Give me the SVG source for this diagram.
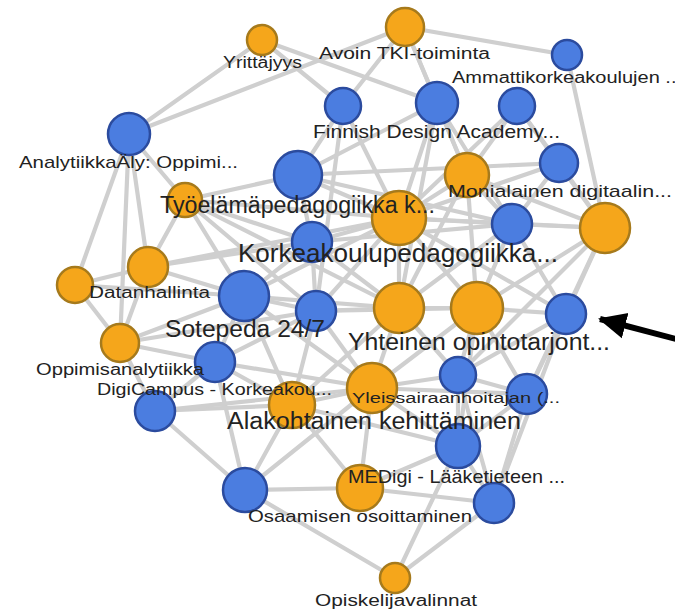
<svg xmlns="http://www.w3.org/2000/svg" width="675" height="611" viewBox="0 0 675 611">
<style>
.e{stroke:#cfcfcf;stroke-width:4.2;stroke-linecap:round}
.o{fill:#f5a61b;stroke:#a67a1c;stroke-width:2.5}
.b{fill:#4b7de0;stroke:#2b4b9e;stroke-width:2.5}
text{font-family:"Liberation Sans",Arial,sans-serif;fill:#222;text-anchor:middle}
</style>
<defs>
<marker id="ah" viewBox="0 0 28 28" refX="26" refY="14" markerWidth="28" markerHeight="28" markerUnits="userSpaceOnUse" orient="auto"><path d="M0,1 L28,14 L0,27 z" fill="#000"/></marker>
</defs>
<rect width="675" height="611" fill="#fff"/>
<g id="edges">
<line class="e" x1="262" y1="40" x2="129" y2="134"/>
<line class="e" x1="262" y1="40" x2="343" y2="106"/>
<line class="e" x1="262" y1="40" x2="437" y2="103"/>
<line class="e" x1="129" y1="134" x2="405" y2="27"/>
<line class="e" x1="405" y1="27" x2="343" y2="106"/>
<line class="e" x1="405" y1="27" x2="437" y2="103"/>
<line class="e" x1="405" y1="27" x2="567" y2="55"/>
<line class="e" x1="405" y1="27" x2="467" y2="175"/>
<line class="e" x1="567" y1="55" x2="605" y2="228"/>
<line class="e" x1="343" y1="106" x2="298" y2="175"/>
<line class="e" x1="343" y1="106" x2="399" y2="218"/>
<line class="e" x1="343" y1="106" x2="316" y2="311"/>
<line class="e" x1="437" y1="103" x2="399" y2="218"/>
<line class="e" x1="437" y1="103" x2="467" y2="175"/>
<line class="e" x1="437" y1="103" x2="298" y2="175"/>
<line class="e" x1="437" y1="103" x2="512" y2="224"/>
<line class="e" x1="437" y1="103" x2="399" y2="308"/>
<line class="e" x1="517" y1="106" x2="467" y2="175"/>
<line class="e" x1="517" y1="106" x2="399" y2="218"/>
<line class="e" x1="517" y1="106" x2="605" y2="228"/>
<line class="e" x1="517" y1="106" x2="559" y2="163"/>
<line class="e" x1="129" y1="134" x2="185" y2="200"/>
<line class="e" x1="129" y1="134" x2="148" y2="267"/>
<line class="e" x1="129" y1="134" x2="75" y2="285"/>
<line class="e" x1="129" y1="134" x2="120" y2="343"/>
<line class="e" x1="185" y1="200" x2="298" y2="175"/>
<line class="e" x1="185" y1="200" x2="399" y2="218"/>
<line class="e" x1="185" y1="200" x2="312" y2="242"/>
<line class="e" x1="185" y1="200" x2="244" y2="296"/>
<line class="e" x1="185" y1="200" x2="148" y2="267"/>
<line class="e" x1="185" y1="200" x2="316" y2="311"/>
<line class="e" x1="185" y1="200" x2="399" y2="308"/>
<line class="e" x1="298" y1="175" x2="399" y2="218"/>
<line class="e" x1="298" y1="175" x2="312" y2="242"/>
<line class="e" x1="298" y1="175" x2="559" y2="163"/>
<line class="e" x1="298" y1="175" x2="512" y2="224"/>
<line class="e" x1="467" y1="175" x2="399" y2="218"/>
<line class="e" x1="467" y1="175" x2="512" y2="224"/>
<line class="e" x1="467" y1="175" x2="605" y2="228"/>
<line class="e" x1="467" y1="175" x2="477" y2="308"/>
<line class="e" x1="467" y1="175" x2="399" y2="308"/>
<line class="e" x1="559" y1="163" x2="605" y2="228"/>
<line class="e" x1="559" y1="163" x2="512" y2="224"/>
<line class="e" x1="559" y1="163" x2="399" y2="218"/>
<line class="e" x1="399" y1="218" x2="512" y2="224"/>
<line class="e" x1="399" y1="218" x2="312" y2="242"/>
<line class="e" x1="399" y1="218" x2="399" y2="308"/>
<line class="e" x1="399" y1="218" x2="477" y2="308"/>
<line class="e" x1="399" y1="218" x2="244" y2="296"/>
<line class="e" x1="399" y1="218" x2="148" y2="267"/>
<line class="e" x1="399" y1="218" x2="316" y2="311"/>
<line class="e" x1="399" y1="218" x2="566" y2="314"/>
<line class="e" x1="399" y1="218" x2="605" y2="228"/>
<line class="e" x1="605" y1="228" x2="512" y2="224"/>
<line class="e" x1="605" y1="228" x2="566" y2="314"/>
<line class="e" x1="605" y1="228" x2="477" y2="308"/>
<line class="e" x1="605" y1="228" x2="527" y2="394"/>
<line class="e" x1="605" y1="228" x2="458" y2="375"/>
<line class="e" x1="512" y1="224" x2="477" y2="308"/>
<line class="e" x1="512" y1="224" x2="399" y2="308"/>
<line class="e" x1="512" y1="224" x2="566" y2="314"/>
<line class="e" x1="512" y1="224" x2="312" y2="242"/>
<line class="e" x1="312" y1="242" x2="244" y2="296"/>
<line class="e" x1="312" y1="242" x2="399" y2="308"/>
<line class="e" x1="312" y1="242" x2="148" y2="267"/>
<line class="e" x1="312" y1="242" x2="316" y2="311"/>
<line class="e" x1="148" y1="267" x2="75" y2="285"/>
<line class="e" x1="148" y1="267" x2="244" y2="296"/>
<line class="e" x1="148" y1="267" x2="120" y2="343"/>
<line class="e" x1="75" y1="285" x2="120" y2="343"/>
<line class="e" x1="75" y1="285" x2="244" y2="296"/>
<line class="e" x1="120" y1="343" x2="244" y2="296"/>
<line class="e" x1="120" y1="343" x2="215" y2="362"/>
<line class="e" x1="120" y1="343" x2="155" y2="411"/>
<line class="e" x1="120" y1="343" x2="316" y2="311"/>
<line class="e" x1="244" y1="296" x2="316" y2="311"/>
<line class="e" x1="244" y1="296" x2="215" y2="362"/>
<line class="e" x1="244" y1="296" x2="399" y2="308"/>
<line class="e" x1="244" y1="296" x2="292" y2="405"/>
<line class="e" x1="244" y1="296" x2="372" y2="388"/>
<line class="e" x1="316" y1="311" x2="399" y2="308"/>
<line class="e" x1="316" y1="311" x2="215" y2="362"/>
<line class="e" x1="316" y1="311" x2="292" y2="405"/>
<line class="e" x1="316" y1="311" x2="372" y2="388"/>
<line class="e" x1="316" y1="311" x2="477" y2="308"/>
<line class="e" x1="399" y1="308" x2="477" y2="308"/>
<line class="e" x1="399" y1="308" x2="372" y2="388"/>
<line class="e" x1="399" y1="308" x2="458" y2="375"/>
<line class="e" x1="399" y1="308" x2="292" y2="405"/>
<line class="e" x1="477" y1="308" x2="566" y2="314"/>
<line class="e" x1="477" y1="308" x2="458" y2="375"/>
<line class="e" x1="477" y1="308" x2="527" y2="394"/>
<line class="e" x1="477" y1="308" x2="372" y2="388"/>
<line class="e" x1="477" y1="308" x2="458" y2="446"/>
<line class="e" x1="566" y1="314" x2="527" y2="394"/>
<line class="e" x1="566" y1="314" x2="458" y2="375"/>
<line class="e" x1="566" y1="314" x2="494" y2="503"/>
<line class="e" x1="215" y1="362" x2="155" y2="411"/>
<line class="e" x1="215" y1="362" x2="292" y2="405"/>
<line class="e" x1="215" y1="362" x2="245" y2="490"/>
<line class="e" x1="215" y1="362" x2="372" y2="388"/>
<line class="e" x1="458" y1="375" x2="372" y2="388"/>
<line class="e" x1="458" y1="375" x2="527" y2="394"/>
<line class="e" x1="458" y1="375" x2="458" y2="446"/>
<line class="e" x1="458" y1="375" x2="494" y2="503"/>
<line class="e" x1="527" y1="394" x2="458" y2="446"/>
<line class="e" x1="527" y1="394" x2="372" y2="388"/>
<line class="e" x1="527" y1="394" x2="494" y2="503"/>
<line class="e" x1="155" y1="411" x2="292" y2="405"/>
<line class="e" x1="155" y1="411" x2="245" y2="490"/>
<line class="e" x1="155" y1="411" x2="372" y2="388"/>
<line class="e" x1="372" y1="388" x2="292" y2="405"/>
<line class="e" x1="372" y1="388" x2="458" y2="446"/>
<line class="e" x1="372" y1="388" x2="360" y2="488"/>
<line class="e" x1="372" y1="388" x2="245" y2="490"/>
<line class="e" x1="292" y1="405" x2="245" y2="490"/>
<line class="e" x1="292" y1="405" x2="360" y2="488"/>
<line class="e" x1="292" y1="405" x2="458" y2="446"/>
<line class="e" x1="360" y1="488" x2="245" y2="490"/>
<line class="e" x1="360" y1="488" x2="458" y2="446"/>
<line class="e" x1="360" y1="488" x2="494" y2="503"/>
<line class="e" x1="458" y1="446" x2="395" y2="578"/>
<line class="e" x1="458" y1="446" x2="494" y2="503"/>
<line class="e" x1="245" y1="490" x2="395" y2="578"/>
<line class="e" x1="494" y1="503" x2="395" y2="578"/>
</g>
<g id="node-b"><circle class="b" cx="343" cy="106" r="18"/></g>
<g id="node-d"><circle class="b" cx="517" cy="106" r="18"/></g>
<g id="node-h"><circle class="b" cx="512" cy="224" r="20"/></g>
<g id="node-i"><circle class="b" cx="312" cy="242" r="20"/></g>
<g id="node-k"><circle class="b" cx="316" cy="311" r="20"/></g>
<g id="node-l"><circle class="b" cx="566" cy="314" r="20"/></g>
<g id="node-o"><circle class="b" cx="527" cy="394" r="20"/></g>
<g id="node-p"><circle class="b" cx="155" cy="411" r="20"/></g>
<g id="node-r"><circle class="b" cx="245" cy="490" r="22"/></g>
<g id="node-s"><circle class="b" cx="494" cy="503" r="20"/></g>
<g id="node-o6"><circle class="o" cx="605" cy="228" r="25"/></g>
<g id="node-o8"><circle class="o" cx="75" cy="285" r="18"/></g>
<g id="node-o10"><circle class="o" cx="399" cy="308" r="25"/></g>
<g id="node-o13"><circle class="o" cx="292" cy="405" r="23"/></g>
<g id="node-o3"><circle class="o" cx="467" cy="175" r="22"/></g>
<g id="node-yrittajyys"><circle class="o" cx="262" cy="40" r="15"/><text x="262.5" y="68" font-size="16" textLength="79" lengthAdjust="spacingAndGlyphs">Yrittäjyys</text></g>
<g id="node-avoin"><circle class="o" cx="405" cy="27" r="19"/><text x="404.5" y="59" font-size="16" textLength="171" lengthAdjust="spacingAndGlyphs">Avoin TKI-toiminta</text></g>
<g id="node-amk"><circle class="b" cx="567" cy="55" r="15"/><text x="567" y="83" font-size="16" textLength="230" lengthAdjust="spacingAndGlyphs">Ammattikorkeakoulujen ...</text></g>
<g id="node-finnish"><circle class="b" cx="437" cy="103" r="21"/><text x="436.5" y="138" font-size="18.5" textLength="247" lengthAdjust="spacingAndGlyphs">Finnish Design Academy...</text></g>
<g id="node-analytiikka"><circle class="b" cx="129" cy="134" r="21"/><text x="128.5" y="168" font-size="17" textLength="219" lengthAdjust="spacingAndGlyphs">AnalytiikkaÄly: Oppimi...</text></g>
<g id="node-o4"><circle class="o" cx="185" cy="200" r="17"/></g>
<g id="node-korkeakoulu"><circle class="o" cx="399" cy="218" r="27"/><text x="398" y="262" font-size="25" textLength="320" lengthAdjust="spacingAndGlyphs">Korkeakoulupedagogiikka...</text></g>
<g id="node-tyoelama"><circle class="b" cx="298" cy="175" r="24"/><text x="297.5" y="213" font-size="23" textLength="275" lengthAdjust="spacingAndGlyphs">Työelämäpedagogiikka k...</text></g>
<g id="node-monialainen"><circle class="b" cx="559" cy="163" r="19"/><text x="560" y="197" font-size="17" textLength="224" lengthAdjust="spacingAndGlyphs">Monialainen digitaalin...</text></g>
<g id="node-datanhallinta"><circle class="o" cx="148" cy="267" r="20"/><text x="149.5" y="298" font-size="16" textLength="121" lengthAdjust="spacingAndGlyphs">Datanhallinta</text></g>
<g id="node-sotepeda"><circle class="b" cx="244" cy="296" r="25"/><text x="245" y="337" font-size="23" textLength="160" lengthAdjust="spacingAndGlyphs">Sotepeda 24/7</text></g>
<g id="node-digicampus"><circle class="b" cx="215" cy="362" r="20"/><text x="214.5" y="395" font-size="16" textLength="235" lengthAdjust="spacingAndGlyphs">DigiCampus - Korkeakou...</text></g>
<g id="node-oppimisanalytiikka"><circle class="o" cx="120" cy="343" r="19"/><text x="120" y="375" font-size="16" textLength="168" lengthAdjust="spacingAndGlyphs">Oppimisanalytiikka</text></g>
<g id="node-yhteinen"><circle class="o" cx="477" cy="308" r="26"/><text x="479" y="350" font-size="23" textLength="262" lengthAdjust="spacingAndGlyphs">Yhteinen opintotarjont...</text></g>
<g id="node-osaamisen"><circle class="o" cx="360" cy="488" r="23"/><text x="360" y="522" font-size="17" textLength="224" lengthAdjust="spacingAndGlyphs">Osaamisen osoittaminen</text></g>
<g id="node-medigi"><circle class="b" cx="458" cy="446" r="22"/><text x="456.5" y="483" font-size="18.5" textLength="217" lengthAdjust="spacingAndGlyphs">MEDigi - Lääketieteen ...</text></g>
<g id="node-alakohtainen"><circle class="o" cx="372" cy="388" r="25"/><text x="374" y="429" font-size="23" textLength="294" lengthAdjust="spacingAndGlyphs">Alakohtainen kehittäminen</text></g>
<g id="node-yleissairaanhoitajan"><circle class="b" cx="458" cy="375" r="18"/><text x="456" y="403" font-size="14" textLength="208" lengthAdjust="spacingAndGlyphs">Yleissairaanhoitajan (...</text></g>
<g id="node-opiskelijavalinnat"><circle class="o" cx="395" cy="578" r="15"/><text x="396" y="606" font-size="16" textLength="162" lengthAdjust="spacingAndGlyphs">Opiskelijavalinnat</text></g>
<g id="arrow"><line x1="676" y1="339" x2="600" y2="319" stroke="#000" stroke-width="6" marker-end="url(#ah)"/></g>
</svg>
